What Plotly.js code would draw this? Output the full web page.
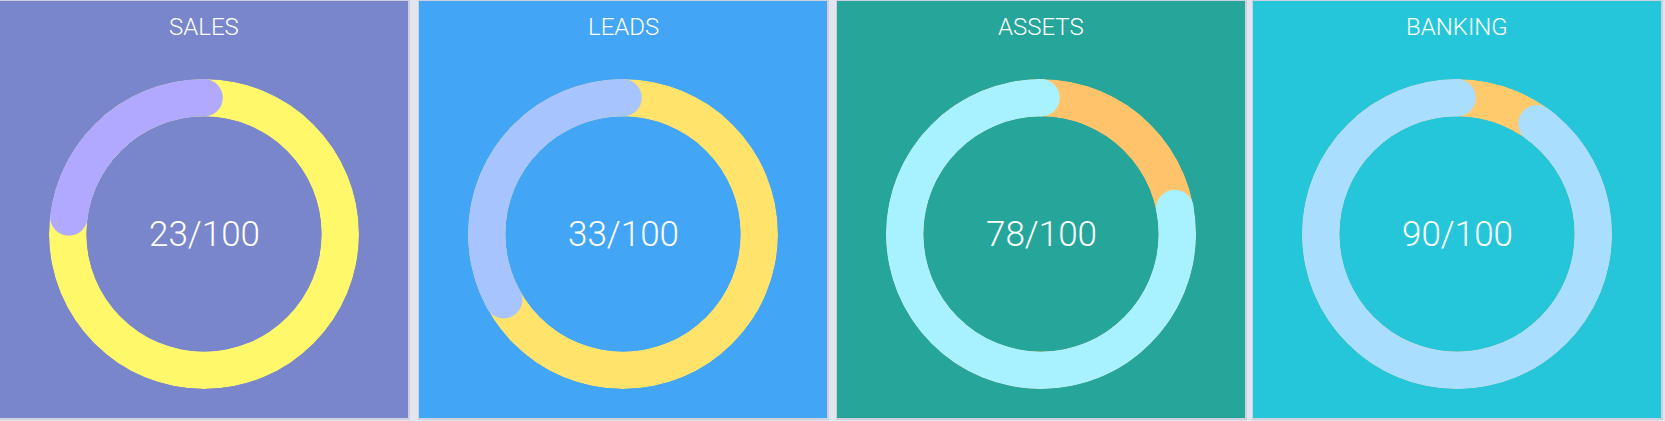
<!DOCTYPE html>
<html>
<head>
<meta charset="utf-8">
<script src="https://cdn.plot.ly/plotly-3.0.1.min.js"></script>
<style>
html,body{margin:0;padding:0;background:#E3E5EE;}
#chart{width:1665px;height:421px;}
</style>
</head>
<body>
<div id="chart"></div>
<script>
const categories = ['SALES', 'LEADS', 'ASSETS', 'BANKING'];
const values = [23, 33, 78, 90];
const maxValues = [100, 100, 100, 100];
const panelColors = ['#7986CB', '#42A5F5', '#26A69A', '#26C6DA'];
const valueColors = ['#B1A8FF', '#A8C4FF', '#A8F2FF', '#AADEFF'];
const restColors = ['#FFF86B', '#FFE36B', '#FFC46B', '#FFCA6B'];

const W = 1665, H = 421;
const panelLeft = [0, 419, 837, 1253];
const panelWidth = 408;
const panelTop = 1, panelBottom = 418;
const cy = 234, R = 155, holeFrac = 0.758;
const ringPx = R * (1 - holeFrac);

const traces = [];
const shapes = [];
const annotations = [];
const layout = {
  width: W, height: H,
  margin: {l: 0, r: 0, t: 0, b: 0},
  paper_bgcolor: '#E3E5EE',
  showlegend: false,
  font: {family: 'Roboto, sans-serif', color: '#FFFFFF'},
  hovermode: false
};

categories.forEach((cat, i) => {
  const key = i === 0 ? 'polar' : 'polar' + (i + 1);
  const cx = panelLeft[i] + panelWidth / 2;
  const deg = values[i] / maxValues[i] * 360;

  shapes.push({type: 'rect', xref: 'paper', yref: 'paper', layer: 'below',
    x0: (panelLeft[i] - 1) / W, x1: (panelLeft[i] + panelWidth + 2) / W,
    y0: (H - panelBottom - 2) / H, y1: (H - panelTop + 1) / H,
    fillcolor: '#CED1DD', line: {width: 0}});
  shapes.push({type: 'rect', xref: 'paper', yref: 'paper', layer: 'below',
    x0: panelLeft[i] / W, x1: (panelLeft[i] + panelWidth) / W,
    y0: (H - panelBottom) / H, y1: (H - panelTop) / H,
    fillcolor: panelColors[i], line: {width: 0}});

  layout[key] = {
    domain: {x: [(cx - R) / W, (cx + R) / W], y: [(H - cy - R) / H, (H - cy + R) / H]},
    hole: holeFrac,
    bgcolor: 'rgba(0,0,0,0)',
    barmode: 'overlay',
    radialaxis: {visible: false, range: [0, 1]},
    angularaxis: {visible: false, rotation: 90, direction: 'counterclockwise'}
  };

  traces.push({type: 'barpolar', subplot: key, r: [1], theta: [180], width: [360], base: 0,
    marker: {color: restColors[i], line: {width: 0}}, hoverinfo: 'skip'});
  traces.push({type: 'barpolar', subplot: key, r: [1], theta: [deg / 2], width: [deg], base: 0,
    marker: {color: valueColors[i], line: {width: 0}}, hoverinfo: 'skip'});
  traces.push({type: 'scatterpolar', subplot: key, mode: 'markers', r: [0.5, 0.5], theta: [0, deg],
    marker: {color: valueColors[i], size: ringPx, line: {width: 0}}, cliponaxis: false, hoverinfo: 'skip'});

  annotations.push({xref: 'paper', yref: 'paper', x: cx / W, y: (H - 27) / H,
    xanchor: 'center', yanchor: 'middle', showarrow: false, text: cat,
    font: {family: 'Roboto, sans-serif', size: 24, color: '#FFFFFF', weight: 300}});
  annotations.push({xref: 'paper', yref: 'paper', x: cx / W, y: (H - cy) / H,
    xanchor: 'center', yanchor: 'middle', showarrow: false,
    text: values[i] + '/' + maxValues[i],
    font: {family: 'Roboto, sans-serif', size: 35, color: '#FFFFFF', weight: 300}});
});

layout.shapes = shapes;
layout.annotations = annotations;

Plotly.newPlot('chart', traces, layout, {displayModeBar: false, staticPlot: true});
</script>
</body>
</html>
